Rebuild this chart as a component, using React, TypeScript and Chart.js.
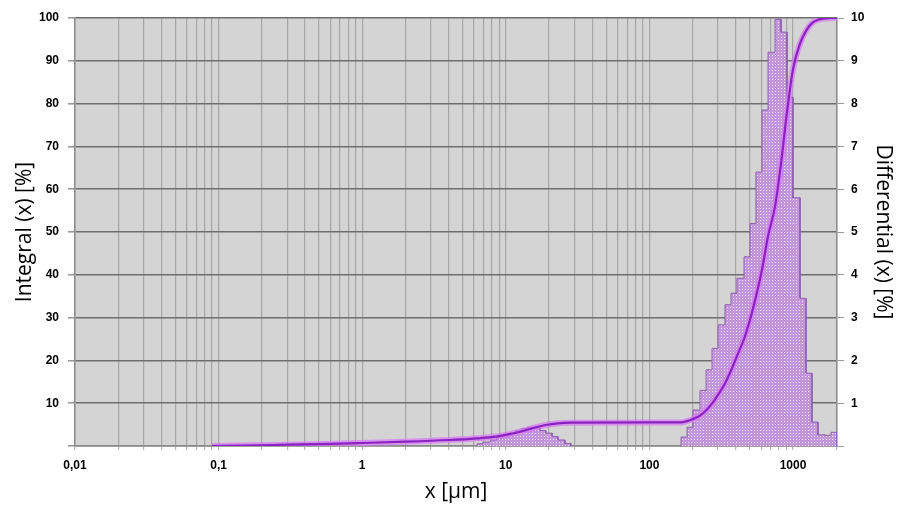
import React, { useEffect, useRef } from 'react';
import { Chart, registerables } from 'chart.js';

Chart.register(...registerables);

// ---- data ----
const xAxisLabels = [0.01, 0.1, 1, 10, 100, 1000];
const leftTicks = [10, 20, 30, 40, 50, 60, 70, 80, 90, 100];
const rightTicks = [1, 2, 3, 4, 5, 6, 7, 8, 9, 10];

// main mode histogram (bin edges in µm, differential %)
const coarseEdges = [166, 183, 201, 225, 248, 273, 301, 336, 370, 407, 456, 502, 552, 608, 670, 750, 825, 908, 1000, 1119, 1232, 1356, 1493, 1670, 1839, 2025];
const coarseHeights = [0.21, 0.44, 0.84, 1.3, 1.78, 2.28, 2.83, 3.3, 3.57, 3.92, 4.42, 5.2, 6.4, 7.85, 9.2, 9.97, 9.67, 8.15, 5.8, 3.45, 1.7, 0.56, 0.26, 0.25, 0.32];

// small mode histogram around 10-30 µm
const fineEdges = [6.3, 6.9, 7.8, 8.6, 9.4, 10.4, 11.6, 12.8, 14.1, 15.5, 17.3, 19.0, 21.0, 23.1, 25.8, 28.4];
const fineHeights = [0.05, 0.09, 0.14, 0.19, 0.24, 0.3, 0.36, 0.41, 0.44, 0.42, 0.36, 0.3, 0.22, 0.14, 0.06];

// cumulative (integral) curve
const cumX = [0.09, 0.15, 0.3, 0.6, 1, 2, 4, 6.3, 8.6, 10.4, 12.8, 15.5, 19, 23, 28, 100, 166, 183, 201, 225, 248, 273, 301, 336, 370, 407, 456, 502, 552, 608, 670, 750, 825, 908, 1000, 1119, 1232, 1356, 1493, 1670, 1839, 2025];
const cumY = [0, 0.1, 0.3, 0.5, 0.7, 1.0, 1.4, 1.8, 2.2, 2.7, 3.4, 4.2, 4.9, 5.3, 5.45, 5.5, 5.5, 5.8, 6.3, 7.1, 8.3, 9.9, 12, 14.6, 17.6, 21.0, 25, 29.5, 34.9, 41.2, 49, 56, 66, 78, 88, 94, 97, 98.8, 99.6, 99.9, 100, 100];

// staircase outline of a histogram, built from the edge/height arrays
function histPoints(edges: number[], heights: number[]) {
  const pts: { x: number; y: number }[] = [{ x: edges[0], y: 0 }];
  for (let i = 0; i < heights.length; i++) {
    pts.push({ x: edges[i], y: heights[i] });
    pts.push({ x: edges[i + 1], y: heights[i] });
  }
  pts.push({ x: edges[edges.length - 1], y: 0 });
  return pts;
}

function isPow10(v: number) {
  const l = Math.log10(v);
  return Math.abs(l - Math.round(l)) < 1e-9;
}

function fmtX(v: number) {
  return String(v).replace('.', ',');
}

const tickFont = { family: 'Liberation Sans', weight: 'bold' as const, size: 12 };
const titleFont = { family: 'Open Sans', size: 21 };

export default function App() {
  const ref = useRef<HTMLCanvasElement | null>(null);

  useEffect(() => {
    const canvas = ref.current;
    if (!canvas) return;
    const ctx = canvas.getContext('2d')!;

    const pc = document.createElement('canvas');
    pc.width = 3;
    pc.height = 3;
    const g = pc.getContext('2d')!;
    g.fillStyle = '#c295dc';
    g.fillRect(0, 0, 3, 3);
    g.fillStyle = '#f7e6fc';
    g.fillRect(1, 1, 1, 1);
    const pattern = ctx.createPattern(pc, 'repeat');

    const cum = cumX.map((x, i) => ({ x, y: cumY[i] }));

    const plotBg = {
      id: 'plotBg',
      beforeDraw(chart: any) {
        const { ctx: c, chartArea: a } = chart;
        c.save();
        c.fillStyle = '#d4d4d4';
        c.fillRect(a.left, a.top, a.right - a.left, a.bottom - a.top);
        c.restore();
      },
    };

    const chart = new Chart(ctx, {
      type: 'line',
      data: {
        datasets: [
          {
            label: 'Integral core',
            data: cum,
            yAxisID: 'y',
            borderColor: '#8a22c2',
            borderWidth: 2.2,
            pointRadius: 0,
            cubicInterpolationMode: 'monotone',
            fill: false,
          },
          {
            label: 'Integral halo',
            data: cum,
            yAxisID: 'y',
            borderColor: 'rgba(216,118,246,0.7)',
            borderWidth: 6,
            pointRadius: 0,
            cubicInterpolationMode: 'monotone',
            fill: false,
          },
          {
            label: 'Differential',
            data: histPoints(coarseEdges, coarseHeights),
            yAxisID: 'y2',
            borderColor: '#8e5fae',
            borderWidth: 1,
            backgroundColor: pattern as any,
            fill: 'origin',
            pointRadius: 0,
            tension: 0,
          },
          {
            label: 'Differential small',
            data: histPoints(fineEdges, fineHeights),
            yAxisID: 'y2',
            borderColor: '#8e5fae',
            borderWidth: 1,
            backgroundColor: pattern as any,
            fill: 'origin',
            pointRadius: 0,
            tension: 0,
          },
        ],
      },
      options: {
        responsive: false,
        animation: false,
        layout: { padding: { top: 18, left: 0, right: 0, bottom: 0 } },
        plugins: { legend: { display: false }, tooltip: { enabled: false } },
        scales: {
          x: {
            type: 'logarithmic',
            position: 'bottom',
            min: 0.01,
            max: 2025,
            afterBuildTicks: (s: any) => {
              s.ticks = s.ticks.filter((t: any) => {
                const e = Math.floor(Math.log10(t.value) + 1e-9);
                const sig = t.value / Math.pow(10, e);
                return Math.abs(sig - Math.round(sig)) < 1e-6;
              });
            },
            afterFit: (s: any) => {
              s.height = 61;
            },
            grid: { color: '#a6a6a6', lineWidth: 1.2, tickColor: '#b8b8b8', tickLength: 4 },
            border: { color: '#8c8c8c', width: 1.5 },
            ticks: {
              autoSkip: false,
              maxRotation: 0,
              minRotation: 0,
              padding: 8,
              color: '#000',
              font: tickFont,
              callback: (v: any) => {
                const n = Number(v);
                return isPow10(n) && xAxisLabels.some((a) => Math.abs(a - n) < 1e-9) ? fmtX(n) : '';
              },
            },
            title: {
              display: true,
              text: 'x [µm]',
              color: '#000',
              font: titleFont,
              padding: { top: 0, bottom: 2 },
            },
          },
          y: {
            position: 'left',
            min: 0,
            max: 100,
            afterFit: (s: any) => {
              s.width = 75;
            },
            grid: { color: '#6e6e6e', lineWidth: 1.6, tickColor: '#9a9a9a', tickLength: 7 },
            border: { color: '#8c8c8c', width: 1.5 },
            ticks: {
              stepSize: 10,
              padding: 9,
              color: '#000',
              font: tickFont,
              callback: (v: any) => (leftTicks.includes(Number(v)) ? String(v) : ''),
            },
            title: {
              display: true,
              text: 'Integral (x) [%]',
              color: '#000',
              font: titleFont,
              padding: { top: 12, bottom: 0 },
            },
          },
          y2: {
            position: 'right',
            min: 0,
            max: 10,
            afterFit: (s: any) => {
              s.width = 60;
            },
            grid: { drawOnChartArea: false, tickColor: '#9a9a9a', tickLength: 7 },
            border: { color: '#8c8c8c', width: 1.5 },
            ticks: {
              stepSize: 1,
              padding: 7,
              color: '#000',
              font: tickFont,
              callback: (v: any) => (rightTicks.includes(Number(v)) ? String(v) : ''),
            },
            title: {
              display: true,
              text: 'Differential (x) [%]',
              color: '#000',
              font: titleFont,
              padding: { top: 1, bottom: 0 },
            },
          },
        },
      },
      plugins: [plotBg],
    } as any);

    return () => {
      chart.destroy();
    };
  }, []);

  return (
    <div style={{ position: 'fixed', left: 0, top: 0, width: 897, height: 507, background: '#fff' }}>
      <canvas ref={ref} width={897} height={507} style={{ display: 'block', width: 897, height: 507 }} />
    </div>
  );
}
